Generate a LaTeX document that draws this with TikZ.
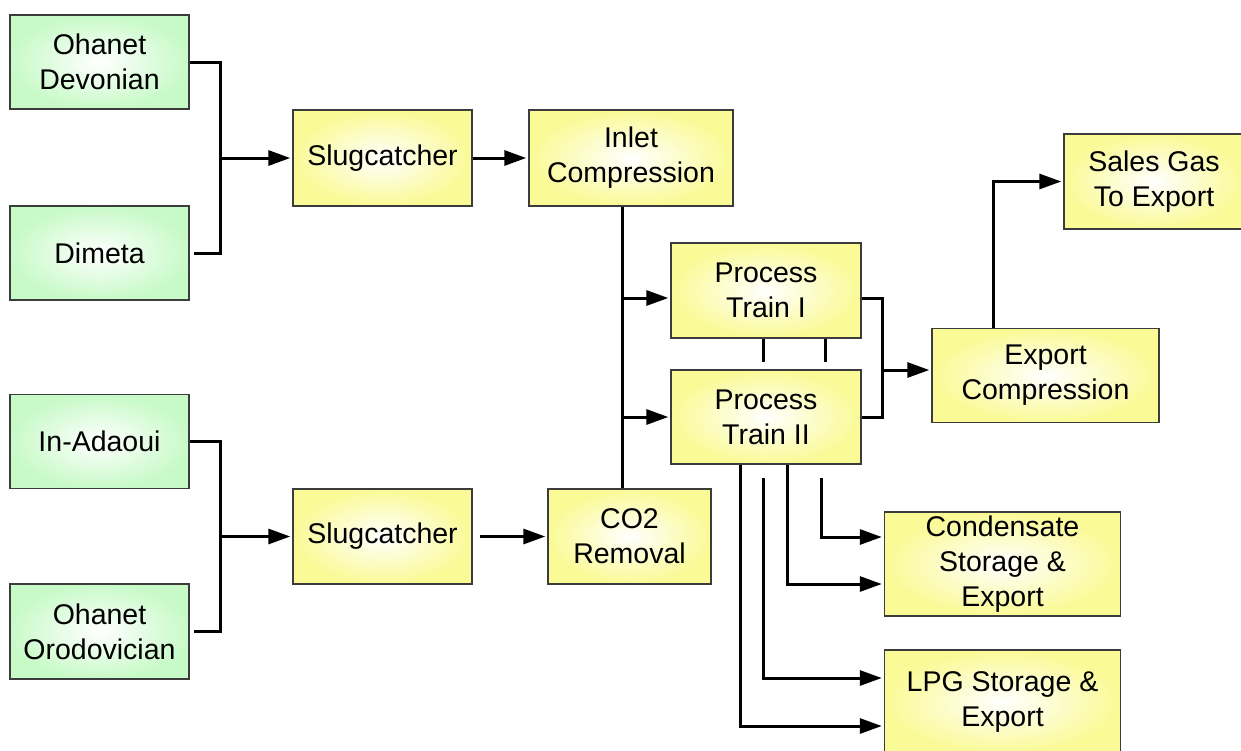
\documentclass[tikz,border=0pt]{standalone}
\usepackage{fontspec}
\setmainfont{Liberation Sans}
\usetikzlibrary{arrows.meta,calc}
\definecolor{yedge}{RGB}{250,250,150}
\definecolor{gedge}{RGB}{200,250,200}
\definecolor{bord}{RGB}{60,60,60}
\tikzset{
  boxbase/.style={draw=bord, line width=1.4pt, align=center, inner sep=0pt,
    font=\fontsize{28.5}{35}\selectfont},
  ybox/.style={boxbase, inner color=white, outer color=yedge},
  gbox/.style={boxbase, inner color=white, outer color=gedge},
  conn/.style={line width=3pt, black},
  arr/.style={conn, shorten >=2pt, -{Triangle[length=22pt,width=15pt]}},
}
\begin{document}
\begin{tikzpicture}[x=1pt,y=-1pt]
\useasboundingbox[fill=white] (0,0) rectangle (1241,750);
% sources
\node[gbox, minimum width=179pt, minimum height=94pt] (od) at (99.5,62) {Ohanet\\Devonian};
\node[gbox, minimum width=179pt, minimum height=94pt] (dim) at (99.5,253) {Dimeta};
\node[gbox, minimum width=179pt, minimum height=94pt] (ina) at (99.5,441.5) {In-Adaoui};
\node[gbox, minimum width=179pt, minimum height=95pt] (oo) at (99.5,631.5) {Ohanet\\Orodovician};
% process
\node[ybox, minimum width=179pt, minimum height=96pt] (sc1) at (382.5,158) {Slugcatcher};
\node[ybox, minimum width=179pt, minimum height=95pt] (sc2) at (382.5,536.5) {Slugcatcher};
\node[ybox, minimum width=204pt, minimum height=96pt] (inlet) at (631,158) {Inlet\\Compression};
\node[ybox, minimum width=163pt, minimum height=95pt] (co2) at (629.5,536.5) {CO2\\Removal};
\node[ybox, minimum width=190pt, minimum height=95pt] (pt1) at (766,290.5) {Process\\Train I};
\node[ybox, minimum width=190pt, minimum height=94pt] (pt2) at (766,417) {Process\\Train II};
\node[ybox, minimum width=227pt, minimum height=94pt] (exp) at (1045.5,375.5) {Export\\Compression};
\node[ybox, minimum width=180pt, minimum height=95pt] (sales) at (1154,181.5) {Sales Gas\\To Export};
\node[ybox, minimum width=236pt, minimum height=104pt] (cond) at (1002.5,564) {Condensate\\Storage \&\\Export};
\node[ybox, minimum width=236pt, minimum height=104pt] (lpg) at (1002.5,702) {LPG Storage \&\\Export};
% top inlet manifold
\coordinate (j1) at (220,158);
\draw[conn] (od.east) -| (j1) |- ([xshift=4pt]dim.east);
\draw[arr] (j1) -- (sc1.west);
\draw[arr] (sc1.east) -- (inlet.west);
% bottom inlet manifold
\coordinate (j2) at (220,536.5);
\draw[conn] (ina.east) -| (j2) |- ([xshift=4pt]oo.east);
\draw[arr] (j2) -- (sc2.west);
\coordinate (s2out) at (480,536.5);
\draw[arr] (s2out) -- (co2.west);
% trunk between inlet compression and CO2 removal
\coordinate (t1) at ([xshift=-9pt]inlet.south);
\draw[conn] (t1) -- (t1 |- co2.north);
\draw[arr] (t1 |- 0,298) -- (pt1.west |- 0,298);
\draw[arr] (t1 |- pt2.west) -- (pt2.west);
% ties between trains
\coordinate (tA) at (763,362);
\coordinate (tB) at (825,362);
\draw[conn] (tA |- pt1.south) -- (tA);
\draw[conn] (tB |- pt1.south) -- (tB);
% trains to export compression
\coordinate (j3) at (882,370);
\draw[conn] (pt1.east |- 0,298) -| (j3) |- (pt2.east);
\draw[arr] (j3) -- (exp.west |- j3);
\coordinate (e1) at (993,0);
\draw[arr] (e1 |- exp.north) |- (sales.west);
% train II to storage
\coordinate (c1) at (821,478);
\coordinate (c2) at (787,0);
\coordinate (l1) at (763,478);
\coordinate (l2) at (740,0);
\draw[arr] (c1) |- (cond.west |- 0,537);
\draw[arr] (c2 |- pt2.south) |- (cond.west |- 0,584);
\draw[arr] (l1) |- (lpg.west |- 0,678);
\draw[arr] (l2 |- pt2.south) |- (lpg.west |- 0,726);
\end{tikzpicture}
\end{document}
